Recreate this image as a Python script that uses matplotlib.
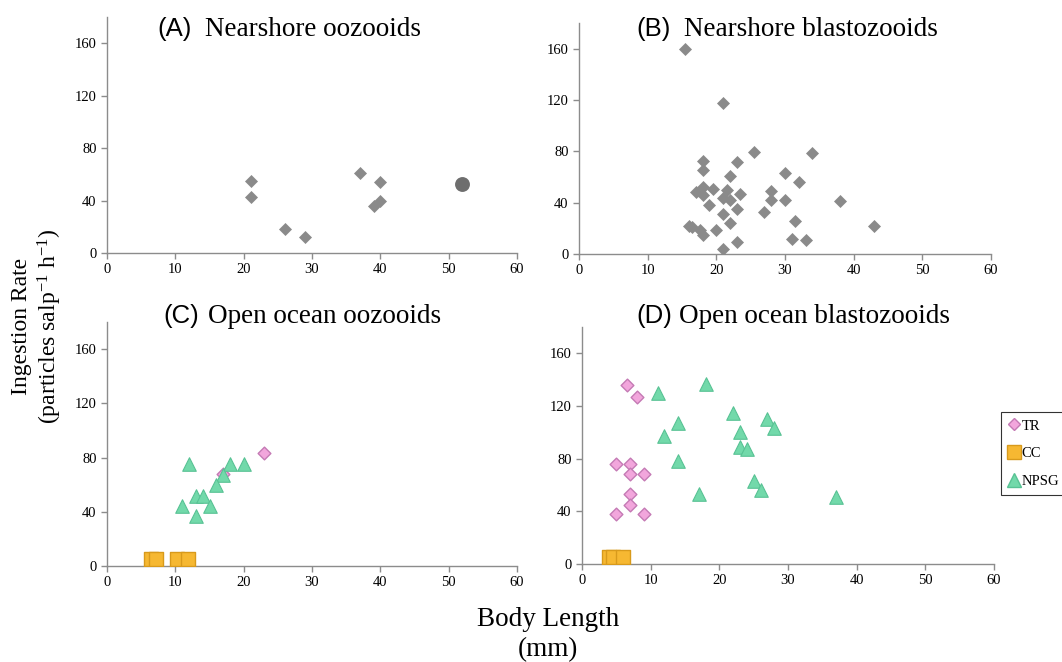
import matplotlib.pyplot as plt
from matplotlib.lines import Line2D

plt.rcParams['mathtext.fontset'] = 'custom'
plt.rcParams['mathtext.rm'] = 'Liberation Serif'
plt.rcParams['mathtext.it'] = 'Liberation Serif:italic'

# (A) nearshore oozooids
a_len = [21, 21, 26, 29, 37, 40, 40, 39]
a_rate = [55, 43, 18, 12, 61, 54, 40, 36]
a_circ_len = [52]
a_circ_rate = [53]

# (B) nearshore blastozooids
b_len = [15.5, 21, 25.5, 34, 18, 18, 23, 22, 30, 32, 17, 18, 18.1, 19.5, 21.5, 21, 22, 23.5,
         19, 23, 28, 28, 30, 38, 21, 27, 22, 31.5, 16, 16.5, 18, 17.6, 20, 23, 31, 33, 21, 43]
b_rate = [160, 118, 79.5, 79, 72.5, 65.5, 71.5, 61, 63, 56, 48, 52.5, 46, 51, 49.5, 43.5, 42, 47,
          38, 35, 49, 42, 42, 41.5, 31, 33, 24.5, 25.5, 22, 21, 15, 18.4, 19, 9, 11.5, 11, 4, 21.5]

# (C) open ocean oozooids
c_tr_len = [23, 17]
c_tr_rate = [83, 68]
c_cc_len = [6.5, 7.2, 10.2, 11.8]
c_cc_rate = [5.5, 5.5, 5, 5]
c_np_len = [12, 18, 20, 17, 16, 13, 14, 11, 15, 13]
c_np_rate = [75, 75, 75, 67, 60, 52, 52, 44, 44, 37]

# (D) open ocean blastozooids
d_tr_len = [6.5, 8, 5, 7, 7, 9, 7, 7, 5, 9]
d_tr_rate = [136, 127, 76, 76, 68, 68, 53, 45, 38, 38]
d_cc_len = [4, 4.5, 6]
d_cc_rate = [5, 5, 5]
d_np_len = [18, 11, 22, 27, 28, 14, 23, 12, 23, 24, 14, 25, 26, 17, 37]
d_np_rate = [137, 130, 115, 110, 103, 107, 100, 97, 89, 87, 78, 63, 56, 53, 51]

x_ticks = [0, 10, 20, 30, 40, 50, 60]
y_ticks = [0, 40, 80, 120, 160]

GRAY = '#8a8a8a'
TR_FACE, TR_EDGE = '#f2a6dc', '#c47ab4'
CC_FACE, CC_EDGE = '#f6b832', '#d89a1c'
NP_FACE, NP_EDGE = '#72d9aa', '#58c294'

W, H = 1062, 662
fig = plt.figure(figsize=(W / 100, H / 100), dpi=100)


def px_axes(l, t, r, b):
    return fig.add_axes([l / W, 1 - b / H, (r - l) / W, (b - t) / H])


def style(ax):
    ax.set_xlim(0, 60)
    ax.set_ylim(0, 180)
    ax.set_xticks(x_ticks)
    ax.set_yticks(y_ticks)
    for s in ['top', 'right']:
        ax.spines[s].set_visible(False)
    for s in ['left', 'bottom']:
        ax.spines[s].set_color('#8c8c8c')
        ax.spines[s].set_linewidth(1.0)
    ax.tick_params(colors='#8c8c8c', labelcolor='black', length=4, width=1, direction='out')
    for lab in ax.get_xticklabels() + ax.get_yticklabels():
        lab.set_fontfamily('Liberation Serif')
        lab.set_fontsize(10.5)


axA = px_axes(107, 17, 517, 253)
axB = px_axes(579, 23, 991, 254)
axC = px_axes(107, 322, 517, 566)
axD = px_axes(582, 327, 994, 564)

axA.scatter(a_len, a_rate, marker='D', s=44, color=GRAY, linewidths=0, zorder=3)
axA.scatter(a_circ_len, a_circ_rate, marker='o', s=115, color='#6e6e6e', linewidths=0, zorder=3)

axB.scatter(b_len, b_rate, marker='D', s=44, color=GRAY, linewidths=0, zorder=3)

for ax, tl, tr, cl, cr, nl, nr in [
        (axC, c_tr_len, c_tr_rate, c_cc_len, c_cc_rate, c_np_len, c_np_rate),
        (axD, d_tr_len, d_tr_rate, d_cc_len, d_cc_rate, d_np_len, d_np_rate)]:
    ax.scatter(tl, tr, marker='D', s=42, facecolor=TR_FACE, edgecolor=TR_EDGE, linewidths=1, zorder=3)
    ax.scatter(cl, cr, marker='s', s=110, facecolor=CC_FACE, edgecolor=CC_EDGE, linewidths=1, zorder=3)
    ax.scatter(nl, nr, marker='^', s=95, facecolor=NP_FACE, edgecolor=NP_EDGE, linewidths=0.8, zorder=4)

for ax in [axA, axB, axC, axD]:
    style(ax)

# panel titles: letter in sans, name in serif
titles = [(157, 205, 36, '(A)', 'Nearshore oozooids'),
          (636, 684, 36, '(B)', 'Nearshore blastozooids'),
          (163, 208, 323, '(C)', 'Open ocean oozooids'),
          (636, 679, 323, '(D)', 'Open ocean blastozooids')]
for xl, xt, yb, letter, name in titles:
    fig.text(xl / W, 1 - yb / H, letter, fontfamily='Liberation Sans', fontsize=18.5, va='baseline')
    fig.text(xt / W, 1 - yb / H, name, fontfamily='Liberation Serif', fontsize=19.5, va='baseline')

fig.text(548 / W, 1 - 626 / H, 'Body Length', fontfamily='Liberation Serif', fontsize=19.5,
         ha='center', va='baseline')
fig.text(548 / W, 1 - 656 / H, '(mm)', fontfamily='Liberation Serif', fontsize=19.5,
         ha='center', va='baseline')
fig.text(22 / W, 1 - 326 / H, 'Ingestion Rate', fontfamily='Liberation Serif', fontsize=17,
         rotation=90, ha='center', va='center')
fig.text(50 / W, 1 - 326 / H, r'(particles salp$^{\mathrm{-1}}$ h$^{\mathrm{-1}}$)',
         fontfamily='Liberation Serif', fontsize=17, rotation=90, ha='center', va='center')

# legend
handles = [Line2D([], [], marker='D', ls='none', ms=6.5, mfc=TR_FACE, mec=TR_EDGE),
           Line2D([], [], marker='s', ms=10, ls='none', mfc=CC_FACE, mec=CC_EDGE),
           Line2D([], [], marker='^', ms=9.5, ls='none', mfc=NP_FACE, mec=NP_EDGE)]
leg = fig.legend(handles, ['TR', 'CC', 'NPSG'], loc='upper left',
                 bbox_to_anchor=(1001 / W, 1 - 412 / H), frameon=True, fancybox=False,
                 prop={'family': 'Liberation Serif', 'size': 10.5}, handlelength=0.8,
                 handletextpad=0.1, borderpad=0.5, labelspacing=1.0, borderaxespad=0)
leg.get_frame().set_edgecolor('black')
leg.get_frame().set_linewidth(0.8)

fig.savefig('out.png', dpi=100)
